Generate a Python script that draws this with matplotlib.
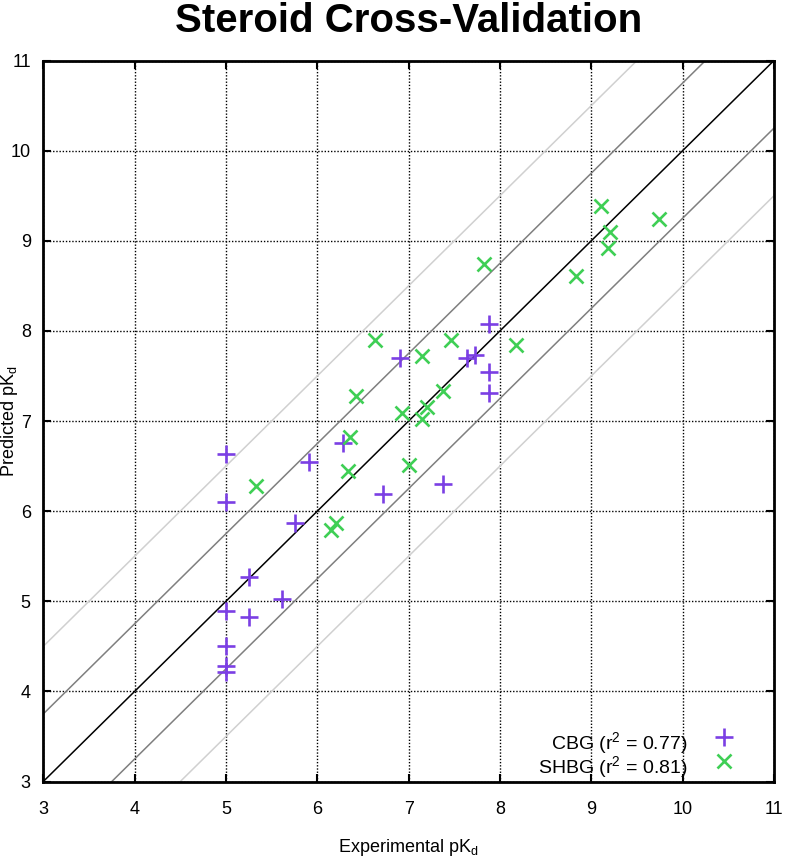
import matplotlib
matplotlib.use("Agg")
import matplotlib.pyplot as plt
import numpy as np

plt.rcParams['font.family'] = ['Liberation Sans', 'DejaVu Sans']
plt.rcParams['mathtext.fontset'] = 'custom'
plt.rcParams['mathtext.rm'] = 'Liberation Sans'
plt.rcParams['mathtext.it'] = 'Liberation Sans:italic'
plt.rcParams['mathtext.bf'] = 'Liberation Sans:bold'

# ---- data ----
cbg_exp = [7.88, 6.90, 7.64, 7.73, 7.88, 7.88, 5.00, 6.28, 5.91, 5.00,
           7.38, 6.72, 5.76, 5.25, 5.61, 5.00, 5.25, 5.00, 5.00, 5.00]
cbg_pred = [8.08, 7.70, 7.70, 7.73, 7.54, 7.31, 6.63, 6.76, 6.54, 6.10,
            6.30, 6.19, 5.87, 5.27, 5.03, 4.89, 4.83, 4.50, 4.28, 4.22]
shbg_exp = [6.63, 7.46, 8.18, 7.15, 6.42, 7.38, 6.93, 7.20, 7.15, 6.36,
            6.34, 7.00, 5.33, 6.20, 6.15, 9.11, 9.74, 9.20, 9.18, 8.83, 7.83]
shbg_pred = [7.90, 7.90, 7.84, 7.72, 7.28, 7.33, 7.09, 7.15, 7.02, 6.82,
             6.44, 6.51, 6.28, 5.87, 5.79, 9.39, 9.24, 9.10, 8.92, 8.61, 8.74]
band_offsets = [0.75, 1.5]
ticks = [3, 4, 5, 6, 7, 8, 9, 10, 11]
labels = ['CBG (r$^2$ = 0.77)', 'SHBG (r$^2$ = 0.81)']

purple = '#7b3fe4'
green = '#3fcf55'

fig = plt.figure(figsize=(7.86, 8.6), dpi=100)
ax = fig.add_axes([43.3 / 786, 1 - 781.5 / 860, (774 - 43.3) / 786, (781.5 - 60.5) / 860])

ax.set_xlim(3, 11)
ax.set_ylim(3, 11)
ax.set_xticks(ticks)
ax.set_yticks(ticks)
ax.grid(True, color='black', linestyle=(0, (1, 1.3)), linewidth=1.0)
ax.set_axisbelow(True)

xs = np.array([3, 11])
ax.plot(xs, xs, color='black', lw=1.1, zorder=2)
for off, col in zip(band_offsets, ['#7f7f7f', '#d0d0d0']):
    ax.plot(xs, xs + off, color=col, lw=1.1, zorder=2)
    ax.plot(xs, xs - off, color=col, lw=1.1, zorder=2)

ax.plot(cbg_exp, cbg_pred, linestyle='none', marker='+', ms=13, mew=1.9,
        color=purple, zorder=3)
ax.plot(shbg_exp, shbg_pred, linestyle='none', marker='x', ms=9.5, mew=1.9,
        color=green, zorder=3)

for s in ax.spines.values():
    s.set_linewidth(2)
ax.tick_params(direction='in', length=6, width=1.5, top=True, right=True,
               labelsize=13)
ax.tick_params(axis='x', pad=14)
ax.tick_params(axis='y', pad=9)

# legend (manual, right aligned)
ax.text(0.881, 0.045, labels[0], transform=ax.transAxes, ha='right',
        va='baseline', fontsize=14)
ax.text(0.881, 0.0118, labels[1], transform=ax.transAxes, ha='right',
        va='baseline', fontsize=14)
ax.plot([0.9316], [0.0618], transform=ax.transAxes, marker='+', ms=13,
        mew=1.9, color=purple, linestyle='none', clip_on=False)
ax.plot([0.9316], [0.0285], transform=ax.transAxes, marker='x', ms=9.5,
        mew=1.9, color=green, linestyle='none', clip_on=False)

ax.set_xlabel('Experimental pK$_\\mathrm{d}$', fontsize=13, va='center')
ax.set_ylabel('Predicted pK$_\\mathrm{d}$', fontsize=13, va='center')
ax.xaxis.set_label_coords(0.5, -0.092)
ax.yaxis.set_label_coords(-0.046, 0.5)

fig.text(408.7 / 786, 1 - 32 / 860, 'Steroid Cross-Validation', ha='center',
         va='baseline', fontsize=29, fontweight='bold')

fig.savefig('out.png', dpi=100)
